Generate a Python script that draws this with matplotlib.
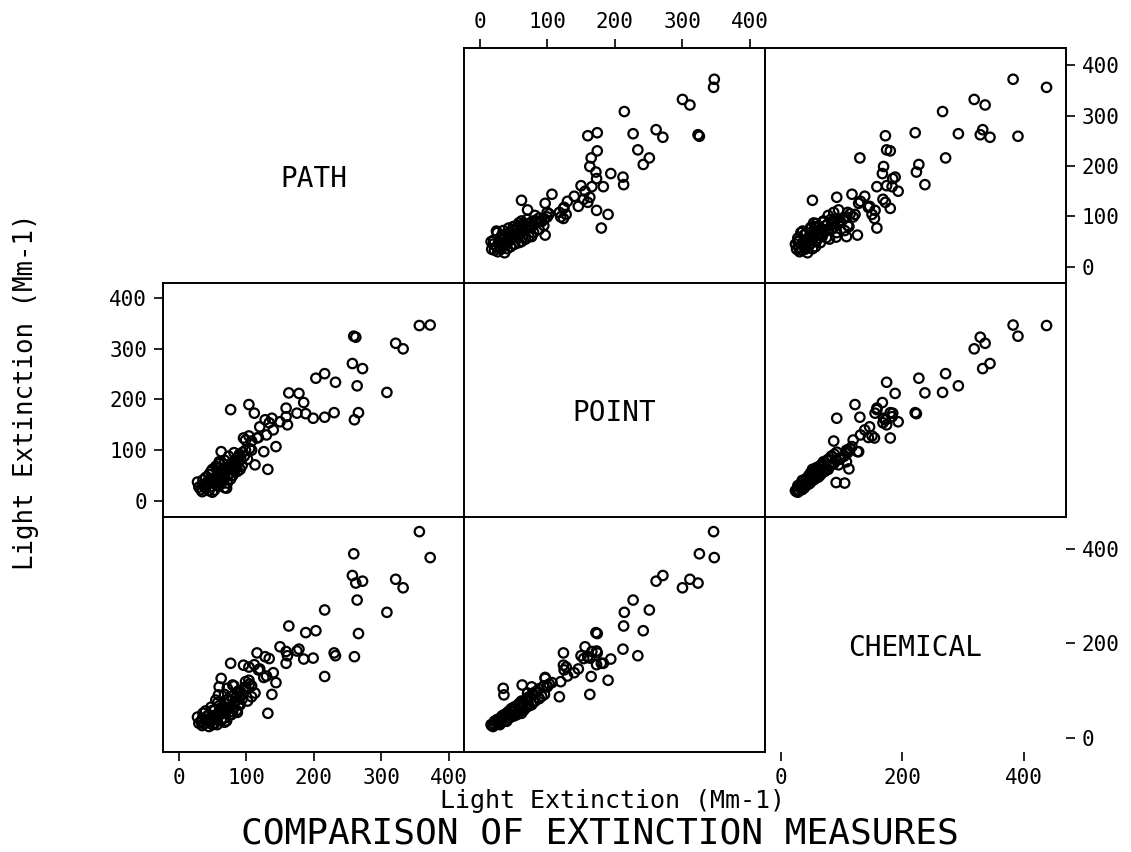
import matplotlib
matplotlib.use("Agg")
import matplotlib.pyplot as plt

plt.rcParams['font.family'] = ['DejaVu Sans Mono', 'DejaVu Sans']

names = ["PATH", "POINT", "CHEMICAL"]

# one entry per observation: path, point and chemical light extinction (Mm-1)
path = [372, 356, 332, 321, 259, 262, 308, 257, 272, 264,
        232, 216, 203, 163, 178, 185, 266, 260, 230, 216,
        188, 175, 199, 159, 159, 150, 161, 128, 134, 77,
        104, 112, 132, 138, 116, 96, 104, 118, 130, 140,
        120, 144, 126, 113, 108, 63, 60, 59, 72, 80,
        105, 108, 99, 90,
        28, 30, 35, 33, 38, 40, 42, 45, 47, 50,
        48, 52, 55, 53, 57, 58, 60, 62, 61, 64,
        65, 66, 68, 71, 69, 72, 73, 75, 76, 78,
        79, 80, 82, 83, 85, 86, 88, 89, 90, 92,
        94, 95, 97, 99, 45, 50, 40, 36, 55, 60,
        48, 53, 68, 74, 82, 68, 80, 35, 44, 63,
        87, 102, 91, 58, 77]
point = [347, 346, 300, 311, 325, 323, 214, 271, 261, 227,
         234, 251, 242, 213, 212, 194, 174, 160, 174, 165,
         172, 173, 163, 183, 166, 156, 150, 160, 154, 180,
         190, 173, 62, 163, 124, 124, 128, 125, 130, 140,
         146, 107, 97, 71, 100, 97, 77, 36, 35, 63,
         103, 118, 120, 88,
         37, 27, 18, 22, 30, 25, 33, 20, 38, 17,
         28, 41, 35, 45, 30, 50, 42, 55, 38, 47,
         60, 52, 44, 25, 58, 65, 50, 62, 70, 55,
         75, 68, 60, 80, 72, 65, 85, 77, 92, 82,
         70, 96, 88, 100, 52, 62, 46, 41, 68, 73,
         58, 21, 80, 88, 95, 26, 50, 32, 40, 33,
         58, 82, 62, 64, 43]
chemical = [382, 437, 318, 336, 390, 328, 266, 344, 332, 292,
            174, 271, 227, 237, 188, 167, 221, 172, 180, 130,
            223, 184, 169, 158, 183, 193, 174, 172, 168, 158,
            122, 155, 52, 92, 180, 154, 150, 144, 131, 138,
            146, 117, 128, 95, 110, 126, 108, 91, 105, 112,
            114, 87, 119, 84,
            44, 31, 26, 35, 30, 38, 46, 24, 36, 28,
            40, 38, 48, 58, 28, 46, 55, 52, 50, 62,
            56, 66, 42, 36, 72, 60, 63, 78, 66, 49,
            88, 63, 74, 76, 86, 58, 99, 70, 88, 97,
            82, 92, 104, 108, 48, 58, 57, 52, 80, 68,
            65, 30, 92, 83, 110, 33, 56, 40, 35, 38,
            54, 78, 70, 75, 50]

values = [path, point, chemical]

W, H = 1131, 852
col_edges = [163, 464, 765, 1066]
row_edges = [48, 283, 517, 752]
xlims = [(-23, 422), (-23, 422), (-26, 469)]
ylims = [(-32, 434), (-32, 430), (-30, 468)]
ticks = [[0, 100, 200, 300, 400], [0, 100, 200, 300, 400], [0, 200, 400]]

fig = plt.figure(figsize=(W / 100, H / 100), dpi=100)
fig.patch.set_facecolor("white")

tick_kw = dict(direction="out", length=6.5, width=1.2, pad=5,
               labelsize=15, colors="black")

for i in range(3):
    for j in range(3):
        x0, x1 = col_edges[j], col_edges[j + 1]
        y0, y1 = row_edges[i], row_edges[i + 1]
        ax = fig.add_axes([x0 / W, 1 - y1 / H, (x1 - x0) / W, (y1 - y0) / H])
        ax.set_xlim(*xlims[j])
        ax.set_ylim(*ylims[i])
        ax.set_xticks([])
        ax.set_yticks([])
        for s in ax.spines.values():
            s.set_linewidth(1.4)
            s.set_color("black")

        if i == j:
            for s in ax.spines.values():
                s.set_visible(False)
            ax.patch.set_alpha(0)
            ax.text(0.5, 0.41, names[i], transform=ax.transAxes,
                    ha="center", va="baseline", fontsize=20)
        else:
            ax.scatter(values[j], values[i], s=46, marker="o",
                       facecolors="none", edgecolors="black",
                       linewidths=1.6, clip_on=True)

        # outer axes, alternating sides as in a pairs plot
        if (i, j) == (0, 1):
            ax.xaxis.tick_top()
            ax.set_xticks(ticks[1])
            ax.tick_params(axis="x", **tick_kw)
        if (i, j) == (0, 2):
            ax.yaxis.tick_right()
            ax.set_yticks(ticks[0])
            ax.tick_params(axis="y", **tick_kw)
        if (i, j) == (1, 0):
            ax.set_yticks(ticks[1])
            ax.tick_params(axis="y", **tick_kw)
        if (i, j) == (2, 0):
            ax.set_xticks(ticks[0])
            ax.tick_params(axis="x", **tick_kw)
        if (i, j) == (2, 2):
            ax.set_xticks(ticks[2])
            ax.tick_params(axis="x", **tick_kw)
            ax.yaxis.tick_right()
            ax.set_yticks(ticks[2])
            ax.tick_params(axis="y", **tick_kw)

fig.text(613 / W, 1 - 808 / H, "Light Extinction (Mm-1)",
         ha="center", va="baseline", fontsize=18)
fig.text(26 / W, 1 - 392 / H, "Light Extinction (Mm-1)",
         ha="center", va="center", rotation=90, fontsize=18.5)
fig.text(600 / W, 1 - 844 / H, "COMPARISON OF EXTINCTION MEASURES",
         ha="center", va="baseline", fontsize=26)

fig.savefig("out.png", dpi=100)
